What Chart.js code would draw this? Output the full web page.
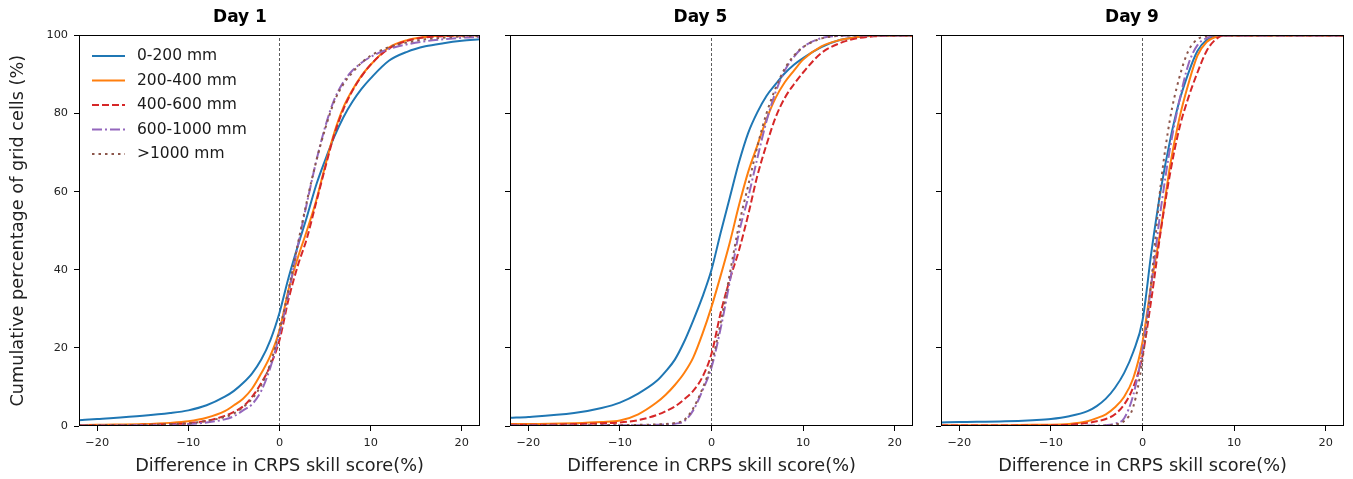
<!DOCTYPE html>
<html><head><meta charset="utf-8">
<script src="https://cdn.jsdelivr.net/npm/chart.js@4.4.1/dist/chart.umd.min.js"></script>
<style>
html,body{margin:0;padding:0;background:#fff;}
#wrap{position:relative;width:1353px;height:479px;overflow:hidden;}
canvas{position:absolute;top:0;}
</style></head><body>
<div id="wrap">
<canvas id="c1" width="488" height="479" style="left:0px;width:488px;height:479px"></canvas>
<canvas id="c2" width="432" height="479" style="left:488px;width:432px;height:479px"></canvas>
<canvas id="c3" width="433" height="479" style="left:920px;width:433px;height:479px"></canvas>
</div>
<script>
// ---------- DATA ----------
const xValues = [-22,-20,-15,-12,-10,-8,-6,-5,-4,-3,-2,-1,0,1,2,3,4,5,6,7,8,9,10,12,14,16,18,20,22];
const seriesNames = ['0-200 mm','200-400 mm','400-600 mm','600-1000 mm','>1000 mm'];
const panelTitles = ['Day 1','Day 5','Day 9'];
const xTicks = [-20,-10,0,10,20];
const yTicks = [0,20,40,60,80,100];

const day1_0_200    = [1.5,1.8,2.6,3.3,4.0,5.3,7.5,9,11,13.5,17,22,29,38,46,53.5,61.5,68,74,79,83,86.3,89,93.5,95.8,97.2,98,98.6,99];
const day1_200_400  = [0.2,0.3,0.5,0.8,1.2,2.1,3.8,5.3,7,9.6,13.5,18,24.5,35,43,50,57.5,66.5,75,81.5,86,89.7,92.5,96.9,98.8,99.6,99.9,100,100];
const day1_400_600  = [0.1,0.1,0.3,0.5,0.7,1.3,2.6,3.6,5,7.5,11,15.5,22,32.5,41,48,57,66,74.5,81,85.8,89.5,92.5,96.6,98.6,99.5,99.8,100,100];
const day1_600_1000 = [0.1,0.1,0.2,0.3,0.5,0.9,1.7,2.5,4,5.6,9,15,23.5,34,46,57,67.5,76.5,83.5,88,91,93,94.5,96.5,97.7,98.5,99,99.4,99.6];
const day1_gt1000   = [0.1,0.2,0.3,0.5,0.7,1.3,2.3,3.2,4.8,7,10.5,16,24.5,35,46.5,57.5,67.5,76,83,87.5,90.5,93,94.8,97,98.2,99,99.4,99.7,99.8];

const day5_0_200    = [2.1,2.3,3.3,4.6,6.0,8.3,11.5,14,17,21.5,27,33,40,49.5,58.5,67.5,75,80.3,84.5,87.5,90.3,92.5,94.2,97,98.8,99.6,99.9,100,100];
const day5_200_400  = [0.5,0.5,0.7,1.0,1.4,3.0,6.0,8.0,10.5,13.5,17.5,23.5,30.5,38.5,47,56.5,65,71.8,78.5,84,88,91,93.8,97.2,98.8,99.6,99.9,100,100];
const day5_400_600  = [0.3,0.3,0.5,0.7,0.9,1.5,2.8,3.8,5,6.8,9,12.5,18.5,29,37.5,45,54,64,72,79,84,87.5,90.5,95.5,98,99.3,99.8,100,100];
const day5_600_1000 = [0.1,0.1,0.1,0.2,0.2,0.2,0.3,0.4,0.6,1.2,4,9,15,25,37,49.5,58.5,68.5,78,85.5,91,94.5,97,99.3,99.9,100,100,100,100];
const day5_gt1000   = [0.1,0.1,0.1,0.2,0.2,0.3,0.4,0.5,0.8,1.5,4.5,9.5,16,26.5,39,51.5,61.5,71.5,80,86.5,91.5,94.8,97,99.2,99.9,100,100,100,100];

const day9_0_200    = [0.9,1.0,1.2,1.5,1.8,2.5,3.8,5.1,7.0,9.8,13.6,19,27,45,60.5,73,83,90.3,96,98.8,99.7,100,100,100,100,100,100,100,100];
const day9_200_400  = [0.2,0.2,0.2,0.3,0.3,0.5,1.2,2,3,4.8,7.5,12.3,21.5,37,50.5,66.5,78.5,87.5,94.8,98.3,99.6,100,100,100,100,100,100,100,100];
const day9_400_600  = [0.1,0.1,0.1,0.1,0.2,0.3,0.8,1.2,1.8,3,5.5,10,18,33,50,64.5,76,84,90.5,96,99,100,100,100,100,100,100,100,100];
const day9_600_1000 = [0,0,0,0,0,0,0.1,0.1,0.2,0.6,2,8,19.5,37,55.5,71,83,92.5,97.5,99.3,100,100,100,100,100,100,100,100,100];
const day9_gt1000   = [0,0,0,0,0,0,0,0,0.1,0.4,1.3,5,17,38,62,78.5,89,96,99,99.8,100,100,100,100,100,100,100,100,100];

const refLineX = [0,0];
const refLineY = [0,100];

// ---------- STYLE ----------
const FONT = '"DejaVu Sans", sans-serif';
const colors = ['#1f77b4','#ff7f0e','#d62728','#9467bd','#8c564b'];
const dashes = [[],[],[7,3],[10,3,2,3],[2.5,4]];
const panels = [
  [day1_0_200,day1_200_400,day1_400_600,day1_600_1000,day1_gt1000],
  [day5_0_200,day5_200_400,day5_400_600,day5_600_1000,day5_gt1000],
  [day9_0_200,day9_200_400,day9_400_600,day9_600_1000,day9_gt1000]
];
const layoutCfg = [
  {id:'c1', yWidth:79, padRight:8},
  {id:'c2', yWidth:22, padRight:7},
  {id:'c3', yWidth:21, padRight:9}
];

const framePlugin = {
  id:'frame',
  afterDatasetsDraw(chart){
    const a = chart.chartArea, ctx = chart.ctx;
    ctx.save();
    ctx.strokeStyle = '#000';
    ctx.lineWidth = 1;
    ctx.strokeRect(Math.round(a.left)+0.5, Math.round(a.top)+0.5, Math.round(a.right-a.left)-1, Math.round(a.bottom-a.top)-1);
    ctx.restore();
  }
};

// legend drawn inside the plot area (upper left), like matplotlib's loc='upper left'
const insideLegendPlugin = {
  id:'insideLegend',
  afterDraw(chart, args, opts){
    if (!opts || !opts.show) return;
    const a = chart.chartArea, ctx = chart.ctx;
    ctx.save();
    ctx.font = '15.5px ' + FONT;
    ctx.textBaseline = 'middle';
    ctx.textAlign = 'left';
    chart.data.datasets.forEach((ds, i) => {
      if (i >= seriesNames.length) return;
      const y = a.top + 20.5 + i * 24.5;
      ctx.beginPath();
      ctx.strokeStyle = ds.borderColor;
      ctx.lineWidth = ds.borderWidth;
      ctx.setLineDash(ds.borderDash || []);
      ctx.moveTo(a.left + 13, y);
      ctx.lineTo(a.left + 46, y);
      ctx.stroke();
      ctx.setLineDash([]);
      ctx.fillStyle = '#1a1a1a';
      ctx.fillText(ds.label, a.left + 58, y + 0.5);
    });
    ctx.restore();
  }
};

function fmtX(v){ return v < 0 ? '\u2212' + Math.abs(v) : String(v); }

panels.forEach((series, p) => {
  const cfg = layoutCfg[p];
  const datasets = series.map((vals, i) => ({
    label: seriesNames[i],
    data: xValues.map((x, k) => ({x: x, y: vals[k]})),
    borderColor: colors[i],
    backgroundColor: colors[i],
    borderWidth: 2,
    borderDash: dashes[i],
    pointRadius: 0,
    fill: false,
    cubicInterpolationMode: 'monotone',
    order: 5 - i
  }));
  datasets.push({
    label: 'ref',
    data: refLineX.map((x, k) => ({x: x, y: refLineY[k]})),
    borderColor: '#333',
    borderWidth: 0.8,
    borderDash: [3,2],
    pointRadius: 0,
    fill: false,
    order: 10
  });
  new Chart(document.getElementById(cfg.id), {
    type: 'line',
    data: { datasets },
    plugins: [framePlugin, insideLegendPlugin],
    options: {
      responsive: false,
      animation: false,
      devicePixelRatio: 1,
      layout: { padding: { left: 0, right: cfg.padRight, top: 0, bottom: 0 } },
      plugins: {
        tooltip: { enabled: false },
        insideLegend: { show: p === 0 },
        title: {
          display: true, text: panelTitles[p], color: '#000',
          font: { family: FONT, size: 17, weight: 'bold', lineHeight: 1.2 },
          padding: { top: 7, bottom: 8 }
        },
        legend: { display: false }
      },
      scales: {
        x: {
          type: 'linear', min: -22, max: 22,
          afterFit: (s) => { s.height = 53; },
          afterBuildTicks: (s) => { s.ticks = xTicks.map(v => ({value: v})); },
          ticks: { includeBounds: false, callback: fmtX, color: '#222', padding: 5, maxRotation: 0,
                   font: { family: FONT, size: 11.3 } },
          grid: { drawOnChartArea: false, drawTicks: true, tickLength: 5, tickColor: '#000', tickWidth: 1 },
          border: { display: false },
          title: { display: true, text: 'Difference in CRPS skill score(%)', color: '#222',
                   font: { family: FONT, size: 17.7 }, padding: { top: 0, bottom: 2 } }
        },
        y: {
          type: 'linear', min: 0, max: 100,
          afterFit: (s) => { s.width = cfg.yWidth; },
          afterBuildTicks: (s) => { s.ticks = yTicks.map(v => ({value: v})); },
          ticks: { callback: (v) => p === 0 ? String(v) : '', color: '#222', padding: 6,
                   font: { family: FONT, size: 11.3 } },
          grid: { drawOnChartArea: false, drawTicks: true, tickLength: 5, tickColor: '#000', tickWidth: 1 },
          border: { display: false },
          title: { display: p === 0, text: 'Cumulative percentage of grid cells (%)', color: '#222',
                   font: { family: FONT, size: 17.7 }, padding: { top: 8, bottom: 0 } }
        }
      }
    }
  });
});
</script>
</body></html>
